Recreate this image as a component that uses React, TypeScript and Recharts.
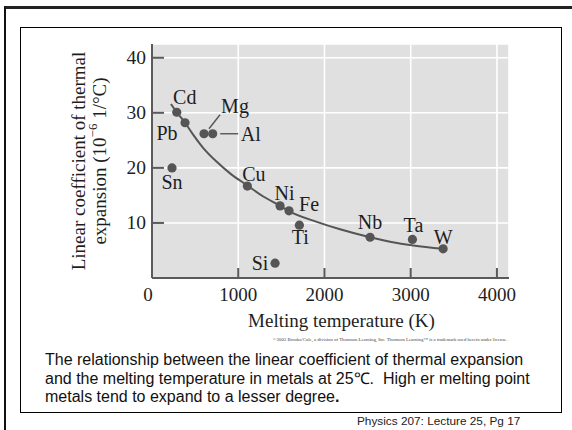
import React from 'react';
import { ComposedChart, Line, Scatter, XAxis, YAxis, CartesianGrid, Label } from 'recharts';

// ---- data ----
const metals = ['Cd', 'Pb', 'Mg', 'Al', 'Sn', 'Cu', 'Ni', 'Fe', 'Ti', 'Nb', 'Ta', 'W', 'Si'];
const meltingK = [287, 383, 603, 704, 232, 1106, 1485, 1589, 1709, 2529, 3020, 3376, 1427];
const alpha = [30.1, 28.2, 26.2, 26.2, 20.0, 16.7, 13.1, 12.2, 9.6, 7.4, 7.0, 5.3, 2.7];

const curveK = [220, 287, 383, 479, 595, 751, 905, 1106, 1291, 1485, 1581, 1911, 2181, 2529, 2761, 3031, 3376];
const curveAlpha = [31.6, 30.1, 28.2, 26.0, 23.6, 21.1, 19.0, 16.8, 14.8, 13.1, 12.2, 10.2, 8.85, 7.4, 6.6, 5.9, 5.3];

const xTicks = [0, 1000, 2000, 3000, 4000];
const yTicks = [10, 20, 30, 40];
const xMax = 4140;
const yMax = 42.5;

// ---- styles ----
const SERIF = '"Liberation Serif", "Times New Roman", serif';
const SANS = '"Liberation Sans", Arial, sans-serif';
const INK = '#555555';
const AXIS = '#5a5a5a';
const TEXT = '#1e1e1e';
const PANEL = '#e0e0e0';

const labelOffset: Record<string, [number, number]> = {
  Cd: [8, -15], Pb: [-18, 10.5], Mg: [31, -28], Al: [38, 0], Sn: [0, 14.5],
  Cu: [6.5, -12.5], Ni: [4.5, -13], Fe: [20, -7], Ti: [1, 12], Nb: [0, -15],
  Ta: [1, -14], W: [0, -12], Si: [-15, 0],
};
const leaders: Record<string, [number, number, number, number]> = {
  Mg: [5, -5, 16, -19],
  Al: [7.5, 0, 25.5, 0],
};

const points = metals.map((name, i) => ({ name, x: meltingK[i], y: alpha[i] }));
const curve = curveK.map((x, i) => ({ x, y: curveAlpha[i] }));

const MetalDot = (props: any) => {
  const { cx, cy, payload } = props;
  const [dx, dy] = labelOffset[payload.name] || [0, -12];
  const ld = leaders[payload.name];
  return (
    <g>
      <circle cx={cx} cy={cy} r={4.6} fill={INK} />
      {ld && (
        <line x1={cx + ld[0]} y1={cy + ld[1]} x2={cx + ld[2]} y2={cy + ld[3]} stroke={INK} strokeWidth={1.4} />
      )}
      <text x={cx + dx} y={cy + dy} textAnchor="middle" dominantBaseline="central"
        fontFamily={SERIF} fontSize={20} fill={TEXT}>{payload.name}</text>
    </g>
  );
};

const YTick = (props: any) => {
  const { x, y, payload } = props;
  return (
    <g>
      <line x1={x + 6} x2={x + 18} y1={y} y2={y} stroke={AXIS} strokeWidth={2} />
      <text x={x} y={y} textAnchor="end" dominantBaseline="central" fontFamily={SERIF} fontSize={19.5} fill={TEXT}>
        {payload.value}
      </text>
    </g>
  );
};

const XTick = (props: any) => {
  const { x, y, payload } = props;
  const axisY = y - 10;
  return (
    <g>
      {payload.value !== 0 && <line x1={x} x2={x} y1={axisY} y2={axisY - 10} stroke={AXIS} strokeWidth={2} />}
      <text x={payload.value === 0 ? x - 4 : x} y={y} dy="0.71em" textAnchor="middle" fontFamily={SERIF} fontSize={19} fill={TEXT}>
        {payload.value}
      </text>
    </g>
  );
};

const YTitle = (props: any) => {
  const vb = props.viewBox || {};
  const cy = (vb.y ?? 44) + (vb.height ?? 234) / 2;
  const cx1 = 78;
  const cx2 = 99;
  return (
    <g fontFamily={SERIF} fontSize={19} fill={TEXT}>
      <text x={cx1} y={cy} textAnchor="middle" dominantBaseline="central" transform={`rotate(-90 ${cx1} ${cy})`}>
        Linear coefficient of thermal
      </text>
      <text x={cx2} y={cy} textAnchor="middle" dominantBaseline="central" transform={`rotate(-90 ${cx2} ${cy})`}>
        expansion (10<tspan fontSize={13} dy={-7}>−6</tspan><tspan dy={7}> 1/°C)</tspan>
      </text>
    </g>
  );
};

export default function App() {
  return (
    <div style={{ position: 'absolute', left: 0, top: 0, width: 572, height: 430, overflow: 'hidden', background: '#fff' }}>
      {/* outer slide frame */}
      <div style={{ position: 'absolute', left: 4, top: 6, width: 700, height: 600, borderLeft: '2.5px solid #111', borderTop: '3px solid #222' }} />
      {/* inner box */}
      <div style={{ position: 'absolute', left: 20, top: 27, width: 540, height: 384, border: '1.5px solid #000' }} />

      <div style={{ position: 'absolute', left: 0, top: 0 }}>
        <ComposedChart width={572} height={340} data={points} margin={{ top: 44, right: 63, bottom: 12, left: 92 }}>
          <CartesianGrid fill={PANEL} fillOpacity={1} stroke="#ffffff" strokeWidth={1.6}
            horizontal vertical />
          <XAxis type="number" dataKey="x" domain={[0, xMax]} ticks={xTicks} interval={0}
            allowDataOverflow tick={<XTick />} tickLine={false} tickSize={0} tickMargin={10} height={50}
            axisLine={{ stroke: AXIS, strokeWidth: 2 }}>
            <Label content={(p: any) => {
              const vb = p.viewBox || {};
              return (
                <text x={(vb.x ?? 152) + (vb.width ?? 357) / 2 + 11} y={327} textAnchor="middle"
                  fontFamily={SERIF} fontSize={19} fill={TEXT}>Melting temperature (K)</text>
              );
            }} />
          </XAxis>
          <YAxis type="number" dataKey="y" domain={[0, yMax]} ticks={yTicks} interval={0} allowDataOverflow
            tick={<YTick />} tickLine={false} tickSize={0} tickMargin={6} width={60}
            axisLine={{ stroke: AXIS, strokeWidth: 2 }}>
            <Label content={<YTitle />} />
          </YAxis>
          <Line data={curve} dataKey="y" type="monotone" stroke={INK} strokeWidth={2} dot={false}
            activeDot={false} isAnimationActive={false} />
          <Scatter data={points} dataKey="y" shape={<MetalDot />} isAnimationActive={false} />
        </ComposedChart>
      </div>

      <div style={{ position: 'absolute', left: 273, top: 337, fontFamily: SERIF, fontSize: 4.8, color: '#444', whiteSpace: 'nowrap' }}>
        ©2003 Brooks/Cole, a division of Thomson Learning, Inc. Thomson Learning™ is a trademark used herein under license.
      </div>

      <div style={{ position: 'absolute', left: 45, top: 351, fontFamily: SANS, fontSize: 16, lineHeight: '18.7px', color: '#111', whiteSpace: 'nowrap' }}>
        <div>The relationship between the linear coefficient of thermal expansion</div>
        <div>and the melting temperature in metals at 25℃.&nbsp; High er melting point</div>
        <div>metals tend to expand to a lesser degree<b>.</b></div>
      </div>

      <div style={{ position: 'absolute', left: 357, top: 414, fontFamily: SANS, fontSize: 11.8, color: '#222', whiteSpace: 'nowrap' }}>
        Physics 207: Lecture 25, Pg 17
      </div>
    </div>
  );
}
